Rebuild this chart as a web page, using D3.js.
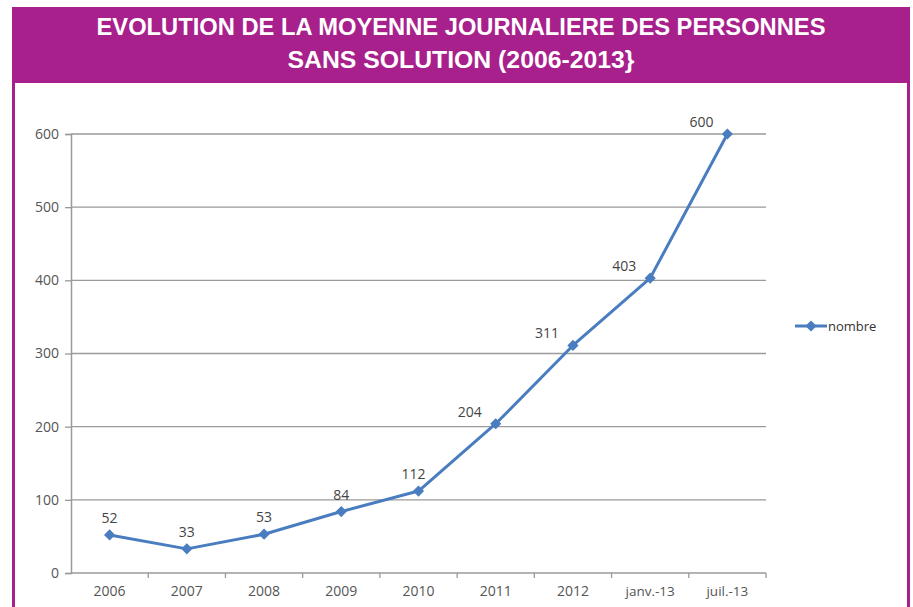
<!DOCTYPE html>
<html>
<head>
<meta charset="utf-8">
<script src="https://cdn.jsdelivr.net/npm/d3@7"></script>
<style>
  body { margin: 0; background: #fff; }
  svg { display: block; }
</style>
</head>
<body>
<div id="graph"></div>
<script>
const categories = ['2006', '2007', '2008', '2009', '2010', '2011', '2012', 'janv.-13', 'juil.-13']
const values = [52, 33, 53, 84, 112, 204, 311, 403, 600]
const yTicks = [0, 100, 200, 300, 400, 500, 600]
const titleLines = [
  'EVOLUTION DE LA MOYENNE JOURNALIERE DES PERSONNES',
  'SANS SOLUTION (2006-2013}',
]
const seriesName = 'nombre'

const width = 913,
  height = 607
const purple = '#a8208b'
const blue = '#4a7dbf'
const labelFont = '"Open Sans", Lato, sans-serif'
const plot = { left: 71, right: 766, top: 134, bottom: 573 }

const svg = d3
  .select('#graph')
  .append('svg')
  .attr('width', width)
  .attr('height', height)

// purple frame + header
svg.append('rect').attr('x', 12).attr('y', 7).attr('width', 898).attr('height', 76).attr('fill', purple)
svg.append('rect').attr('x', 12).attr('y', 83).attr('width', 3).attr('height', height - 83).attr('fill', purple)
svg.append('rect').attr('x', 907).attr('y', 83).attr('width', 3).attr('height', height - 83).attr('fill', purple)

const titleWidths = [729, 347]
titleLines.forEach((t, i) => {
  svg
    .append('text')
    .attr('x', 461)
    .attr('y', 35 + i * 33)
    .attr('text-anchor', 'middle')
    .attr('textLength', titleWidths[i])
    .attr('lengthAdjust', 'spacingAndGlyphs')
    .style('font-family', '"Liberation Sans Narrow", "Arial Narrow", sans-serif')
    .style('font-weight', 'bold')
    .style('font-size', '24px')
    .style('fill', '#fff')
    .text(t)
})

const x = d3.scaleBand().domain(categories).range([plot.left, plot.right])
const y = d3.scaleLinear().domain([0, 600]).range([plot.bottom, plot.top])

const g = svg.append('g').style('font-family', labelFont)

// gridlines
g.selectAll('.grid')
  .data(yTicks.filter((d) => d > 0))
  .enter()
  .append('line')
  .attr('x1', plot.left)
  .attr('x2', plot.right)
  .attr('y1', (d) => y(d))
  .attr('y2', (d) => y(d))
  .attr('stroke', '#9a9a9a')
  .attr('stroke-width', 1.3)

// y axis
const yAxis = g
  .append('g')
  .attr('transform', `translate(${plot.left},0)`)
  .call(d3.axisLeft(y).tickValues(yTicks).tickSize(6).tickPadding(6))
yAxis.select('.domain').attr('stroke', '#9a9a9a').attr('stroke-width', 1.5)
yAxis.selectAll('.tick line').attr('stroke', '#9a9a9a').attr('stroke-width', 1.3)
yAxis.selectAll('text').style('font-size', '14px').style('fill', '#555').style('font-family', labelFont)

// x axis, ticks at band boundaries
const xAxis = g.append('g').attr('transform', `translate(0,${plot.bottom})`)
xAxis
  .append('line')
  .attr('x1', plot.left)
  .attr('x2', plot.right)
  .attr('stroke', '#9a9a9a')
  .attr('stroke-width', 1.5)
xAxis
  .selectAll('.xt')
  .data(categories)
  .enter()
  .append('line')
  .attr('x1', (d) => x(d) + x.bandwidth())
  .attr('x2', (d) => x(d) + x.bandwidth())
  .attr('y1', 0)
  .attr('y2', 5)
  .attr('stroke', '#9a9a9a')
  .attr('stroke-width', 1.3)
xAxis
  .selectAll('.xl')
  .data(categories)
  .enter()
  .append('text')
  .attr('x', (d) => x(d) + x.bandwidth() / 2)
  .attr('y', 23)
  .attr('text-anchor', 'middle')
  .style('font-size', (d) => (d.length > 4 ? '13.5px' : '14px'))
  .style('fill', '#555')
  .text((d) => d)

// series line
const cx = (d, i) => x(categories[i]) + x.bandwidth() / 2
const line = d3
  .line()
  .x((d, i) => cx(d, i))
  .y((d) => y(d))
g.append('path')
  .datum(values)
  .attr('d', line)
  .attr('fill', 'none')
  .attr('stroke', blue)
  .attr('stroke-width', 3)
  .attr('stroke-linejoin', 'round')

const diamond = d3.symbol().type(d3.symbolDiamond2).size(80)
g.selectAll('.pt')
  .data(values)
  .enter()
  .append('path')
  .attr('d', diamond)
  .attr('transform', (d, i) => `translate(${cx(d, i)},${y(d)})`)
  .attr('fill', blue)

// data labels: pushed left when the incoming segment is steep
g.selectAll('.lbl')
  .data(values)
  .enter()
  .append('text')
  .attr('x', (d, i) => {
    const steep = i > 0 && d - values[i - 1] > 50
    return cx(d, i) + (steep ? -26 : i === 4 ? -5 : 0)
  })
  .attr('y', (d, i) => {
    const steep = i > 0 && d - values[i - 1] > 50
    return y(d) + (steep ? -7 : -12)
  })
  .attr('text-anchor', 'middle')
  .style('font-size', '14px')
  .style('fill', '#444')
  .text((d) => d)

// legend
const lg = svg.append('g').attr('transform', 'translate(795,326)')
lg.append('line').attr('x1', 0).attr('x2', 32).attr('stroke', blue).attr('stroke-width', 3)
lg.append('path').attr('d', diamond).attr('transform', 'translate(16,0)').attr('fill', blue)
lg.append('text')
  .attr('x', 33)
  .attr('y', 5)
  .style('font-family', labelFont)
  .style('font-size', '13px')
  .style('fill', '#333')
  .text(seriesName)
</script>
</body>
</html>
